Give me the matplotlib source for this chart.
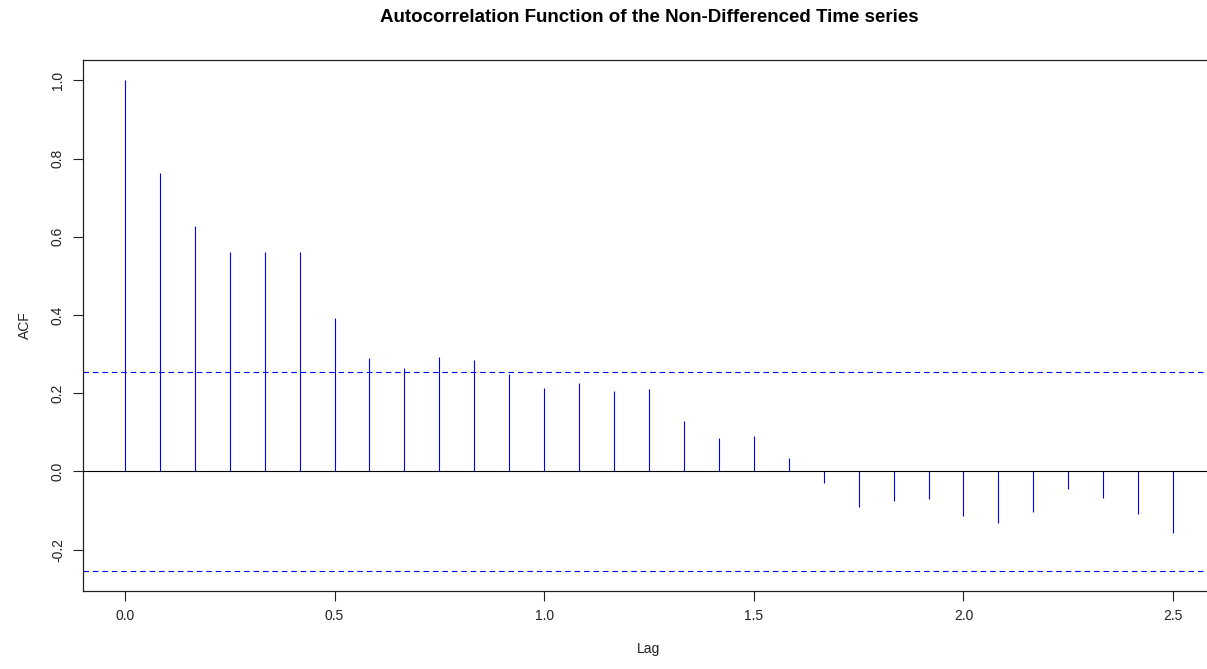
import numpy as np
import matplotlib
matplotlib.use('Agg')
import matplotlib.pyplot as plt

plt.rcParams['font.family'] = ['Liberation Sans', 'DejaVu Sans']

# ACF values, lag in years (monthly series, 1/12 step)
lags = np.arange(31) / 12
acf_vals = [1.000, 0.764, 0.627, 0.562, 0.560, 0.560, 0.392, 0.289, 0.265, 0.292,
            0.285, 0.248, 0.214, 0.227, 0.206, 0.211, 0.129, 0.086, 0.091, 0.034,
            -0.030, -0.092, -0.075, -0.071, -0.114, -0.132, -0.104, -0.045, -0.067,
            -0.109, -0.157]
ci = 0.254
x_ticks = [0.0, 0.5, 1.0, 1.5, 2.0, 2.5]
y_ticks = [-0.2, 0.0, 0.2, 0.4, 0.6, 0.8, 1.0]


def main():
    W, H = 1207, 669
    fig = plt.figure(figsize=(W / 100, H / 100), dpi=100)
    # frame: left 83px, right 1215px (runs off the image), top 60px, bottom 591px
    ax = fig.add_axes([83 / W, 1 - 591 / H, (1215 - 83) / W, (591 - 60) / H])

    ax.vlines(lags, 0, acf_vals, colors='blue', linewidth=0.8)
    ax.axhline(0, color='black', linewidth=0.8)
    for c in (ci, -ci):
        ax.axhline(c, color='blue', linewidth=0.8, linestyle=(0, (5, 3.5)))

    ax.set_xlim(-0.1, 2.6)
    ax.set_ylim(-0.306, 1.052)
    ax.set_xticks(x_ticks)
    ax.set_xticklabels([f'{t:.1f}' for t in x_ticks])
    ax.set_yticks(y_ticks)
    ax.set_yticklabels([f'{t:.1f}' for t in y_ticks], rotation=90, va='center')
    ax.tick_params(direction='out', length=7, width=0.8, labelsize=10, pad=6, colors='#222222')
    for s in ax.spines.values():
        s.set_linewidth(0.9)
        s.set_color('#222222')
    ax.spines['right'].set_visible(False)

    ax.set_xlabel('Lag', fontsize=10, labelpad=14, color='#222222')
    ax.set_ylabel('ACF', fontsize=10, labelpad=14, color='#222222')
    fig.text(649 / W, 1 - 18 / H, 'Autocorrelation Function of the Non-Differenced Time series',
             ha='center', va='center', fontsize=13.5, fontweight='bold')

    fig.savefig('out.png', dpi=100)


if __name__ == '__main__':
    main()
